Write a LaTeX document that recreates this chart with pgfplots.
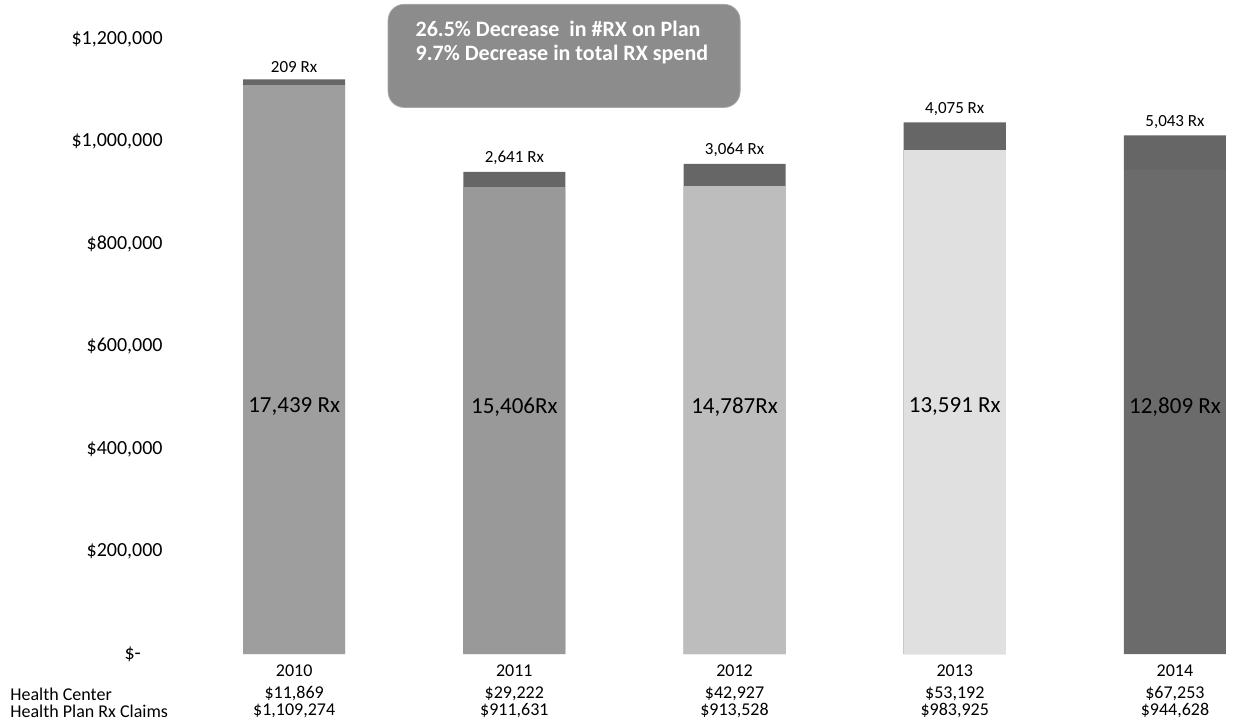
\documentclass[border=0pt]{standalone}
\usepackage{pgfplots}
\pgfplotsset{compat=1.18}
\usepackage{fontspec}
\setmainfont{Carlito}
\definecolor{c2010}{gray}{0.62}
\definecolor{c2011}{gray}{0.60}
\definecolor{c2012}{gray}{0.74}
\definecolor{c2013}{gray}{0.88}
\definecolor{c2014}{gray}{0.42}
\definecolor{ctop}{gray}{0.40}
\definecolor{cbox}{gray}{0.55}
\begin{document}
\begin{tikzpicture}
\begin{axis}[
  name=ax,
  scale only axis,
  width=534pt, height=307.5pt,
  xmin=-0.6, xmax=4.25,
  ymin=0, ymax=1200000,
  scaled y ticks=false,
  axis line style={draw=none},
  major tick length=0pt,
  clip=false,
  ybar, bar width=51pt, bar shift=0pt,
  xtick={0,1,2,3,4},
  xticklabels={2010,2011,2012,2013,2014},
  xticklabel style={font=\fontsize{9}{11}\selectfont, inner sep=0pt, yshift=-5pt},
  ytick={0,200000,400000,600000,800000,1000000,1200000},
  yticklabels={{\makebox[19pt][l]{\$-}},{\$200,000},{\$400,000},{\$600,000},{\$800,000},{\$1,000,000},{\$1,200,000}},
  yticklabel style={font=\fontsize{10}{12}\selectfont, inner sep=0pt, xshift=0.5pt},
  /pgf/number format/assume math mode=true,
]
% totals (Health Center on top of Health Plan Rx Claims)
\addplot[fill=ctop, draw=none] coordinates {(0,1121143) (1,940853) (2,956455) (3,1037117) (4,1011881)};
% Health Plan Rx Claims
\addplot[fill=c2010, draw=none] coordinates {(0,1109274)};
\addplot[fill=c2011, draw=none] coordinates {(1,911631)};
\addplot[fill=c2012, draw=none] coordinates {(2,913528)};
\addplot[fill=c2013, draw=none] coordinates {(3,983925)};
\addplot[fill=c2014, draw=none] coordinates {(4,944628)};
% Rx labels on top
\node[anchor=south, font=\fontsize{8.5}{10}\selectfont] at (axis cs:0,1121143) {209 Rx};
\node[anchor=south, font=\fontsize{8.5}{10}\selectfont] at (axis cs:1,940853) {2,641 Rx};
\node[anchor=south, font=\fontsize{8.5}{10}\selectfont] at (axis cs:2,956455) {3,064 Rx};
\node[anchor=south, font=\fontsize{8.5}{10}\selectfont] at (axis cs:3,1037117) {4,075 Rx};
\node[anchor=south, font=\fontsize{8.5}{10}\selectfont] at (axis cs:4,1011881) {5,043 Rx};
% Rx labels inside
\node[font=\fontsize{11.5}{13}\selectfont] at (axis cs:0,482000) {17,439 Rx};
\node[font=\fontsize{11.5}{13}\selectfont] at (axis cs:1,482000) {15,406Rx};
\node[font=\fontsize{11.5}{13}\selectfont] at (axis cs:2,482000) {14,787Rx};
\node[font=\fontsize{11.5}{13}\selectfont] at (axis cs:3,482000) {13,591 Rx};
\node[font=\fontsize{11.5}{13}\selectfont] at (axis cs:4,482000) {12,809 Rx};
% table rows
\node[font=\fontsize{9}{11}\selectfont] at ([yshift=-20pt]axis cs:0,0) {\$11,869};
\node[font=\fontsize{9}{11}\selectfont] at ([yshift=-20pt]axis cs:1,0) {\$29,222};
\node[font=\fontsize{9}{11}\selectfont] at ([yshift=-20pt]axis cs:2,0) {\$42,927};
\node[font=\fontsize{9}{11}\selectfont] at ([yshift=-20pt]axis cs:3,0) {\$53,192};
\node[font=\fontsize{9}{11}\selectfont] at ([yshift=-20pt]axis cs:4,0) {\$67,253};
\node[font=\fontsize{9}{11}\selectfont] at ([yshift=-28.5pt]axis cs:0,0) {\$1,109,274};
\node[font=\fontsize{9}{11}\selectfont] at ([yshift=-28.5pt]axis cs:1,0) {\$911,631};
\node[font=\fontsize{9}{11}\selectfont] at ([yshift=-28.5pt]axis cs:2,0) {\$913,528};
\node[font=\fontsize{9}{11}\selectfont] at ([yshift=-28.5pt]axis cs:3,0) {\$983,925};
\node[font=\fontsize{9}{11}\selectfont] at ([yshift=-28.5pt]axis cs:4,0) {\$944,628};
\node[anchor=west, inner sep=0pt, font=\fontsize{9}{11}\selectfont] at ([xshift=-76pt,yshift=-20pt]rel axis cs:0,0) {Health Center};
\node[anchor=west, inner sep=0pt, font=\fontsize{9}{11}\selectfont] at ([xshift=-76pt,yshift=-28.5pt]rel axis cs:0,0) {Health Plan Rx Claims};
% annotation box
\node[fill=cbox, draw=gray!70, rounded corners=8pt, minimum width=176pt, minimum height=51.5pt, anchor=north]
  at ([yshift=17.5pt]axis cs:1.226,1200000) {};
\node[text=white, font=\bfseries\fontsize{11}{12}\selectfont, align=left]
  at ([yshift=-2pt]axis cs:1.216,1200000) {26.5\% Decrease \ in \#RX on Plan\\9.7\% Decrease in total RX spend};
\end{axis}
\pgfresetboundingbox
\path ([xshift=-81pt,yshift=-34pt]ax.south west) rectangle ([xshift=3pt,yshift=19.5pt]ax.north east);
\end{tikzpicture}
\end{document}
